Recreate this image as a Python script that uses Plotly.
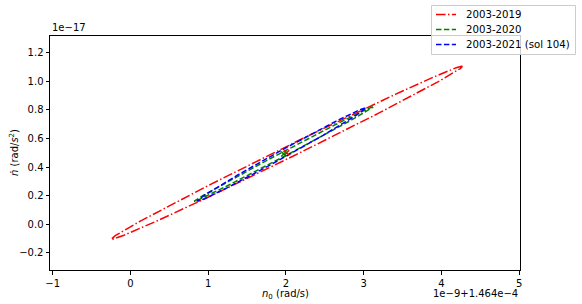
import numpy as np
import plotly.graph_objects as go

# ---- data (x in units of 1e-9 rad/s offset from 1.464e-4, y in units of 1e-17 rad/s^2) ----
series_names = ["2003-2019", "2003-2020", "2003-2021 (sol 104)"]
series_colors = ["#ff0000", "#008000", "#0000ff"]
series_dash = ["9.6px,2.4px,1.5px,2.4px", "5.5px,2.4px", "5.5px,2.4px"]
# ellipse parameters: centre, half-extent in x and y, correlation
center_x = [2.01, 1.97, 1.94]
center_y = [0.500, 0.491, 0.487]
extent_x = [2.26, 1.15, 1.08]
extent_y = [0.605, 0.33, 0.325]
correlation = [0.9972, 0.9985, 0.9957]

x_ticks = [-1, 0, 1, 2, 3, 4, 5]
x_tick_text = ["−1", "0", "1", "2", "3", "4", "5"]
y_ticks = [-0.2, 0.0, 0.2, 0.4, 0.6, 0.8, 1.0, 1.2]
y_tick_text = ["−0.2", "0.0", "0.2", "0.4", "0.6", "0.8", "1.0", "1.2"]
x_range = [-1.035, 5.01]
y_range = [-0.319, 1.316]

FONT = "DejaVu Sans"
W, H = 582, 304
ML, MR, MT, MB = 50, 62, 36, 34
PW, PH = W - ML - MR, H - MT - MB


def px_x(p):  # pixel -> paper x
    return (p - ML) / PW


def px_y(p):  # pixel -> paper y
    return (H - MB - p) / PH


t = np.linspace(0, 2 * np.pi, 400)

fig = go.Figure()
for i, name in enumerate(series_names):
    r = correlation[i]
    xs = center_x[i] + extent_x[i] * np.cos(t)
    ys = center_y[i] + extent_y[i] * (r * np.cos(t) + np.sqrt(1 - r * r) * np.sin(t))
    fig.add_trace(go.Scatter(x=xs, y=ys, mode="lines", name=name, showlegend=False,
                             line=dict(color=series_colors[i], width=1.5, dash=series_dash[i])))

# centre markers
for i in [0, 1]:
    fig.add_trace(go.Scatter(x=[center_x[i]], y=[center_y[i]], mode="markers", showlegend=False,
                             marker=dict(symbol="x-thin", size=5,
                                         line=dict(color=series_colors[i], width=1.5))))

axis_common = dict(showline=True, linecolor="black", linewidth=1, mirror=True,
                   ticks="outside", ticklen=3.5, tickwidth=1, tickcolor="black",
                   showgrid=False, zeroline=False,
                   tickfont=dict(family=FONT, size=10, color="black"))

fig.update_xaxes(range=x_range, tickvals=x_ticks, ticktext=x_tick_text, **axis_common)
fig.update_yaxes(range=y_range, tickvals=y_ticks, ticktext=y_tick_text, **axis_common)

# legend drawn by hand (matplotlib style box outside top-right)
shapes = [dict(type="rect", xref="paper", yref="paper",
               x0=px_x(431.5), x1=px_x(575.5), y0=px_y(54.5), y1=px_y(5.5),
               line=dict(color="#cccccc", width=1), fillcolor="rgba(255,255,255,0.8)",
               layer="above")]
annotations = []
row_y = [14.5, 29.5, 44.5]
for i, name in enumerate(series_names):
    shapes.append(dict(type="line", xref="paper", yref="paper",
                       x0=px_x(436), x1=px_x(456), y0=px_y(row_y[i]), y1=px_y(row_y[i]),
                       line=dict(color=series_colors[i], width=1.5, dash=series_dash[i]),
                       layer="above"))
    annotations.append(dict(text=name, xref="paper", yref="paper", x=px_x(464), y=px_y(row_y[i]),
                            xanchor="left", yanchor="middle", showarrow=False,
                            font=dict(family=FONT, size=10.2, color="black")))

annotations += [
    dict(text="1e−17", xref="paper", yref="paper", x=0, y=1.0, xanchor="left",
         yanchor="bottom", yshift=1, showarrow=False, font=dict(family=FONT, size=10)),
    dict(text="1e−9+1.464e−4", xref="paper", yref="paper", x=1.0, y=0, xanchor="right",
         yanchor="top", yshift=-16, showarrow=False, font=dict(family=FONT, size=10)),
    dict(text="<i>n</i><sub>0</sub> (rad/s)", xref="paper", yref="paper", x=0.5, y=0,
         xanchor="center", yanchor="top", yshift=-16, showarrow=False,
         font=dict(family=FONT, size=10)),
    dict(text="<i>ṅ</i> (rad/<i>s</i><sup>2</sup>)", xref="paper", yref="paper", x=0,
         y=0.5, xanchor="right", yanchor="middle", xshift=-28, textangle=-90,
         showarrow=False, font=dict(family=FONT, size=10)),
]

fig.update_layout(
    width=W, height=H,
    margin=dict(l=ML, r=MR, t=MT, b=MB, autoexpand=False),
    plot_bgcolor="white", paper_bgcolor="white",
    font=dict(family=FONT, size=10, color="black"),
    showlegend=False,
    shapes=shapes,
    annotations=annotations,
)

fig.write_html("out.html", config={"displayModeBar": False},
               post_script="document.body.style.margin='0';document.body.style.overflow='hidden';")
